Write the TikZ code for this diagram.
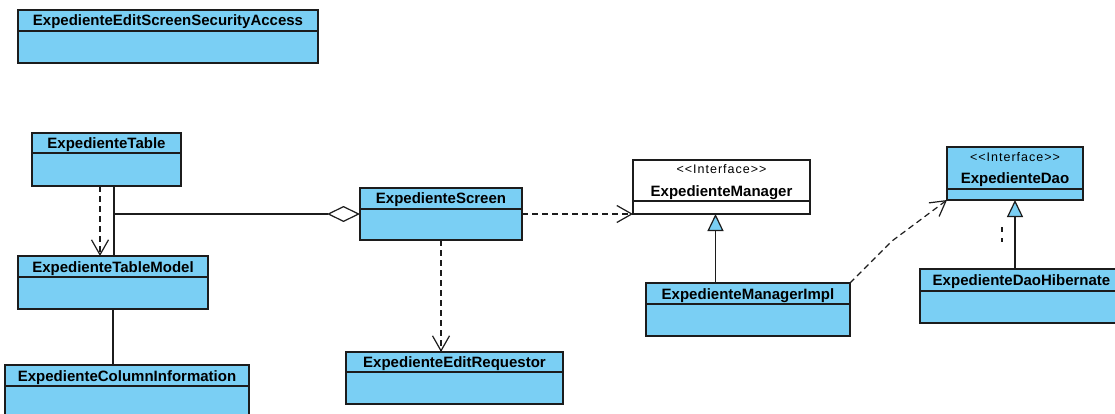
\documentclass[tikz,border=0pt]{standalone}
\usepackage{fontspec}
\setmainfont{Liberation Sans}
\newfontfamily\stereofont[LetterSpace=8]{Liberation Sans}
\usetikzlibrary{arrows.meta,calc}

\definecolor{umlblue}{RGB}{122,207,244}
\definecolor{umlline}{RGB}{28,28,28}

\tikzset{
  x=1pt, y=-1pt,
  classbox/.style={draw=umlline, line width=1.3pt, inner sep=0pt, outer sep=0pt},
  classline/.style={draw=umlline, line width=1.3pt},
  classname/.style={font=\fontsize{15}{17}\selectfont\bfseries, anchor=base, inner sep=0pt},
  stereo/.style={font=\fontsize{12.5}{14}\stereofont, anchor=base, inner sep=0pt},
  dep/.style={draw=umlline, line width=1.2pt, dash pattern=on 6pt off 4pt,
    -{Straight Barb[length=15pt,width=17pt,line width=1.2pt]}},
  gen/.style={draw=umlline, line width=1.2pt,
    -{Triangle[length=17pt,width=16pt,fill=umlblue,line width=1.2pt]}},
  agg/.style={draw=umlline, line width=1.2pt,
    -{Diamond[length=33pt,width=16pt,fill=white,line width=1.2pt]}},
  assoc/.style={draw=umlline, line width=1.2pt},
}

% class box: name, x1, y1, x2, y2, header bottom, fill, title
\newcommand\umlclass[8]{%
  \node[classbox, fill=#7, anchor=north west,
        minimum width={(#4-#2)*1pt}, minimum height={(#5-#3)*1pt}] (#1) at (#2,#3) {};
  \draw[classline] (#2,#6) -- (#4,#6);
  \node[classname] at ({(#2+#4)/2},{(#3+#6)/2+5.5}) {#8};
}
% interface box: name, x1, y1, x2, y2, header bottom, fill, title
\newcommand\umliface[8]{%
  \node[classbox, fill=#7, anchor=north west,
        minimum width={(#4-#2)*1pt}, minimum height={(#5-#3)*1pt}] (#1) at (#2,#3) {};
  \draw[classline] (#2,#6) -- (#4,#6);
  \node[stereo] at ({(#2+#4)/2},{#3+14}) {<<Interface>>};
  \node[classname] at ({(#2+#4)/2},{#3+36}) {#8};
}

\begin{document}
\begin{tikzpicture}
\useasboundingbox (0,0) rectangle (1115,414);
\clip (0,0) rectangle (1115,414);
\fill[white] (0,0) rectangle (1115,414);

% classes
\umlclass{sec}{18}{10}{318}{63}{31}{umlblue}{ExpedienteEditScreenSecurityAccess}
\umlclass{tbl}{32}{133}{181}{186}{153}{umlblue}{ExpedienteTable}
\umlclass{tm}{18}{256}{208}{309}{277}{umlblue}{ExpedienteTableModel}
\umlclass{ci}{5}{365}{249}{420}{386}{umlblue}{ExpedienteColumnInformation}
\umlclass{scr}{360}{188}{522}{240}{209}{umlblue}{ExpedienteScreen}
\umlclass{req}{346}{352}{563}{404}{372}{umlblue}{ExpedienteEditRequestor}
\umliface{mgr}{633}{160}{810}{214}{201}{white}{ExpedienteManager}
\umlclass{impl}{646}{283}{850}{336}{304}{umlblue}{ExpedienteManagerImpl}
\umliface{dao}{947}{147}{1083}{200}{189}{umlblue}{ExpedienteDao}
\umlclass{hib}{920}{269}{1123}{323}{291}{umlblue}{ExpedienteDaoHibernate}

% table -> table model
\draw[dep] ([xshift=-6.5pt]tbl.south) -- ([xshift=-6.5pt]tbl.south |- tm.north);
\draw[assoc] ([xshift=7.5pt]tbl.south) -- ([xshift=7.5pt]tbl.south |- tm.north);
\coordinate (join) at ([xshift=7.5pt]tbl.south |- scr.west);
\draw[agg] (join) -- (scr.west);
\draw[assoc] (tm.south) -- (tm.south |- ci.north);

% screen dependencies
\draw[dep] (scr.east) -- (scr.east -| mgr.west);
\draw[dep] (scr.south) -- (scr.south |- req.north);

% realizations
\draw[gen] ([xshift=-6pt]mgr.south |- impl.north) -- ([xshift=-6pt]mgr.south);
\draw[gen] (dao.south |- hib.north) -- (dao.south);

% manager impl -> dao
\coordinate (bend) at ($(impl.north east)+(42,-42)$);
\draw[dep] (impl.north east) -- (bend) -- (dao.south west);

% leftover dash below the dao
\coordinate (frag1) at ($(dao.south west)+(55,27)$);
\coordinate (frag2) at ($(dao.south west)+(55,42)$);
\draw[assoc, dash pattern=on 5pt off 6pt] (frag1) -- (frag2);
\end{tikzpicture}
\end{document}
